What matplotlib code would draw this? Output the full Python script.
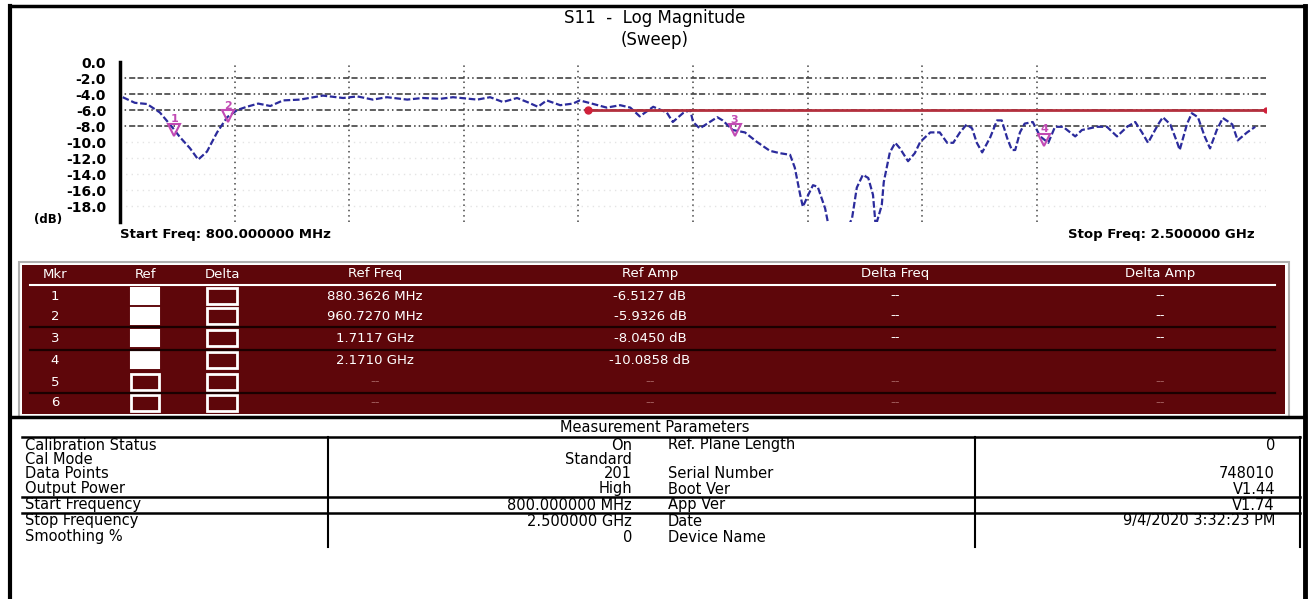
import numpy as np
import matplotlib
matplotlib.use("Agg")
import matplotlib.pyplot as plt
from matplotlib.patches import Rectangle

# ---- trace data ----
freq_mhz = [804, 822, 840, 859, 877, 889, 904, 916, 929, 944, 959, 974, 988, 1005, 1023,
            1042, 1067, 1101, 1131, 1152, 1175, 1196, 1226, 1249, 1275, 1294, 1330, 1349,
            1368, 1389, 1404, 1420, 1433, 1453, 1472, 1482, 1500, 1522, 1542, 1557, 1571,
            1591, 1611, 1620, 1635, 1646, 1650, 1660, 1686, 1694, 1709, 1727, 1745, 1764,
            1779, 1794, 1801, 1809, 1813, 1821, 1828, 1835, 1846, 1850, 1868, 1886, 1893,
            1902, 1910, 1917, 1921, 1930, 1933, 1942, 1950, 1957, 1969, 1979, 1987, 2002,
            2016, 2027, 2036, 2046, 2056, 2064, 2071, 2079, 2091, 2101, 2108, 2116, 2123,
            2128, 2135, 2142, 2154, 2165, 2177, 2187, 2199, 2217, 2227, 2249, 2264, 2279,
            2294, 2306, 2316, 2325, 2340, 2347, 2358, 2368, 2372, 2383, 2390, 2399, 2409,
            2417, 2427, 2436, 2450, 2458, 2472, 2484]
s11_db = [-4.4, -5.1, -5.25, -6.3, -8.1, -9.4, -10.8, -12.2, -11.2, -8.8, -6.9, -6.0, -5.6,
          -5.2, -5.5, -4.8, -4.7, -4.2, -4.5, -4.3, -4.7, -4.4, -4.7, -4.5, -4.6, -4.4, -4.7,
          -4.4, -5.0, -4.5, -5.0, -5.6, -4.8, -5.4, -5.2, -4.8, -5.2, -5.7, -5.4, -5.7, -6.8,
          -5.6, -6.3, -7.5, -6.4, -6.0, -7.5, -8.3, -6.9, -7.3, -8.5, -8.8, -10.0, -11.1,
          -11.4, -11.6, -13.2, -16.6, -18.1, -16.6, -15.4, -15.6, -18.3, -20.0, -23.0, -19.5,
          -15.7, -14.1, -14.5, -16.6, -20.5, -17.9, -15.0, -11.3, -10.1, -10.8, -12.4, -11.4,
          -10.0, -8.8, -8.8, -10.1, -10.1, -8.8, -7.8, -8.3, -10.1, -11.3, -9.4, -7.3, -7.3,
          -9.5, -11.0, -11.0, -8.8, -7.7, -7.5, -9.3, -10.1, -8.1, -8.1, -9.3, -8.5, -8.1,
          -8.1, -9.3, -8.1, -7.5, -8.8, -10.1, -7.8, -6.9, -7.8, -10.0, -11.0, -7.7, -6.4,
          -6.9, -9.3, -10.8, -8.5, -7.0, -7.8, -9.8, -8.8, -8.1]

start_mhz = 800.0
stop_mhz = 2500.0
limit_freq = [1494, 2500]
limit_db = [-6.0, -6.0]
y_ticks = [0, -2, -4, -6, -8, -10, -12, -14, -16, -18]

# ---- marker table ----
mkr_ids = ["1", "2", "3", "4", "5", "6"]
mkr_freq_mhz = [880.3626, 960.7270, 1711.7, 2171.0]
mkr_ref_on = [True, True, True, True, False, False]
ref_freq_txt = ["880.3626 MHz", "960.7270 MHz", "1.7117 GHz", "2.1710 GHz", "--", "--"]
ref_amp_txt = ["-6.5127 dB", "-5.9326 dB", "-8.0450 dB", "-10.0858 dB", "--", "--"]
delta_freq_txt = ["--", "--", "--", "", "--", "--"]
delta_amp_txt = ["--", "--", "--", "", "--", "--"]
table_headers = ["Mkr", "Ref", "Delta", "Ref Freq", "Ref Amp", "Delta Freq", "Delta Amp"]

# ---- measurement parameters ----
left_labels = ["Calibration Status", "Cal Mode", "Data Points", "Output Power",
               "Start Frequency", "Stop Frequency", "Smoothing %"]
left_values = ["On", "Standard", "201", "High", "800.000000 MHz", "2.500000 GHz", "0"]
right_labels = ["Ref. Plane Length", "", "Serial Number", "Boot Ver", "App Ver", "Date",
                "Device Name"]
right_values = ["0", "", "748010", "V1.44", "V1.74", "9/4/2020 3:32:23 PM", ""]

W, H = 1310, 599
TRACE = "#2b2b9c"
MAGENTA = "#c24ab4"
MAROON = "#5e060a"

plt.rcParams["font.family"] = ["DejaVu Sans"]
fig = plt.figure(figsize=(W / 100, H / 100), dpi=100)

# page-level axes in pixel coordinates for frames and tables
bg = fig.add_axes([0, 0, 1, 1])
bg.set_xlim(0, W)
bg.set_ylim(H, 0)
bg.axis("off")

# outer frame
bg.plot([10, 10], [6, H], color="black", lw=3)
bg.plot([1305, 1305], [6, H], color="black", lw=3.5)
bg.plot([10, 1305], [6, 6], color="black", lw=2.5)
bg.plot([10, 1305], [417, 417], color="black", lw=2.5)

# chart title
bg.text(655, 18, "S11  -  Log Magnitude", ha="center", va="center", fontsize=12)
bg.text(655, 40, "(Sweep)", ha="center", va="center", fontsize=12)

# ---- chart ----
ax = fig.add_axes([120 / W, 1 - 222 / H, 1146 / W, 160 / H])
ax.set_facecolor("none")
ax.set_xlim(start_mhz, stop_mhz)
ax.set_ylim(-20, 0)
for s in ["top", "right", "bottom"]:
    ax.spines[s].set_visible(False)
ax.spines["left"].set_linewidth(2.5)
ax.set_xticks([])
ax.set_yticks(y_ticks)
ax.set_yticklabels([f"{v:.1f}" for v in y_ticks], fontsize=10, fontweight="bold")
ax.tick_params(axis="y", length=0, pad=10)

step = (stop_mhz - start_mhz) / 10
for k in range(1, 9):
    ax.axvline(start_mhz + k * step, color="#444444", lw=1.1, ls=(0, (1, 2.5)))
for v in y_ticks[1:]:
    if v >= -8:
        ax.axhline(v, color="#333333", lw=1.1, ls=(0, (1, 2, 1, 2, 4, 1.5, 4, 2)))
    else:
        ax.axhline(v, color="#e4e4e4", lw=1, ls=(0, (1, 3)))

ax.plot(freq_mhz, s11_db, color=TRACE, lw=1.6, ls=(0, (3, 1.2)), zorder=3)

ax.plot(limit_freq, limit_db, color="#b3303d", lw=2, zorder=4)
ax.plot(limit_freq[0], limit_db[0], "o", color="#d0203a", ms=5, zorder=5)
ax.plot(limit_freq[1], limit_db[1], "o", color="#d0203a", ms=3.5, zorder=5)

for i, f in enumerate(mkr_freq_mhz):
    y = np.interp(f, freq_mhz, s11_db)
    ax.plot(f, y, marker="v", mfc="none", mec=MAGENTA, mew=1.5, ms=8, zorder=6)
    ax.text(f, y + 0.7, mkr_ids[i], color=MAGENTA, fontsize=8, fontweight="bold",
            ha="center", va="bottom", zorder=6)

bg.text(62, 219, "(dB)", ha="right", va="center", fontsize=8.5, fontweight="bold")
ax.text(0.0, -0.08, "Start Freq: %.6f MHz" % start_mhz, transform=ax.transAxes,
        ha="left", va="center", fontsize=9.5, fontweight="bold")
ax.text(0.99, -0.08, "Stop Freq: %.6f GHz" % (stop_mhz / 1000), transform=ax.transAxes,
        ha="right", va="center", fontsize=9.5, fontweight="bold")

# ---- marker table panel ----
bg.add_patch(Rectangle((19, 262), 1270, 155, fc="none", ec="#b0b0b0", lw=1.5))
bg.add_patch(Rectangle((22, 265), 1263, 149, fc=MAROON, ec="none"))
col_x = [55, 145, 222, 375, 650, 895, 1160]
row_y = [296, 316, 338, 360, 382, 403]
for x, h in zip(col_x, table_headers):
    bg.text(x, 274, h, color="white", ha="center", va="center", fontsize=9.5)
bg.plot([30, 1275], [285, 285], color="white", lw=1.5)
for y in [327, 350, 393]:
    bg.plot([30, 1275], [y, y], color="#1a0000", lw=1.6)

for i, y in enumerate(row_y):
    bg.text(col_x[0], y, mkr_ids[i], color="white", ha="center", va="center", fontsize=9.5)
    if mkr_ref_on[i]:
        bg.add_patch(Rectangle((131, y - 8), 28, 16, fc="white", ec="white", lw=1.5))
    else:
        bg.add_patch(Rectangle((131, y - 8), 28, 16, fc="none", ec="white", lw=2))
    bg.add_patch(Rectangle((207, y - 8), 30, 16, fc="none", ec="white", lw=2))
    dim = "white" if i < 4 else "#a05a5a"
    bg.text(col_x[3], y, ref_freq_txt[i], color=dim, ha="center", va="center", fontsize=9.5)
    bg.text(col_x[4], y, ref_amp_txt[i], color=dim, ha="center", va="center", fontsize=9.5)
    bg.text(col_x[5], y, delta_freq_txt[i], color=dim, ha="center", va="center", fontsize=9.5)
    bg.text(col_x[6], y, delta_amp_txt[i], color=dim, ha="center", va="center", fontsize=9.5)

# ---- measurement parameters ----
bg.text(655, 428, "Measurement Parameters", ha="center", va="center", fontsize=10.5)
for y in [437, 497, 513]:
    bg.plot([22, 1300], [y, y], color="black", lw=1.8)
for x in [328, 975, 1300]:
    bg.plot([x, x], [437, 547], color="black", lw=1.5)

param_y = [445, 460, 474, 489, 505, 521, 537]
for i, y in enumerate(param_y):
    bg.text(25, y, left_labels[i], ha="left", va="center", fontsize=10.5)
    bg.text(632, y, left_values[i], ha="right", va="center", fontsize=10.5)
    bg.text(668, y, right_labels[i], ha="left", va="center", fontsize=10.5)
    bg.text(1275, y, right_values[i], ha="right", va="center", fontsize=10.5)

fig.savefig("out.png", dpi=100, facecolor="white")
